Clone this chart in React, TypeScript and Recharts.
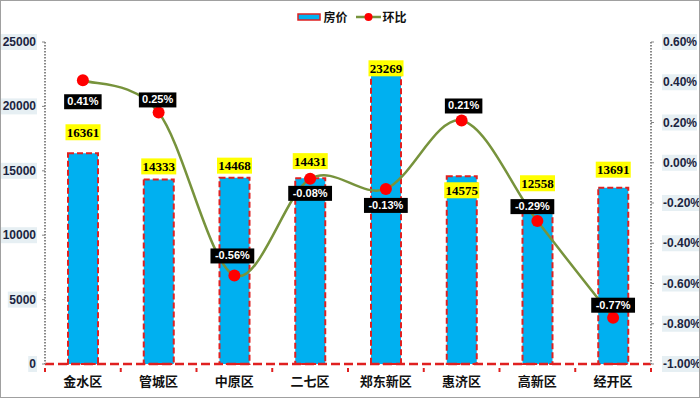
import { Bar, ComposedChart, LabelList, Line, XAxis, YAxis } from 'recharts'

const districts = ['金水区', '管城区', '中原区', '二七区', '郑东新区', '惠济区', '高新区', '经开区']
const prices = [16361, 14333, 14468, 14431, 23269, 14575, 12558, 13691]
const changes = [0.41, 0.25, -0.56, -0.08, -0.13, 0.21, -0.29, -0.77]
const priceTicks = [0, 5000, 10000, 15000, 20000, 25000]
const changeTicks = [-1, -0.8, -0.6, -0.4, -0.2, 0, 0.2, 0.4, 0.6]

// label nudges in px, as placed by hand in the original
const priceLabelDy = [-21, -13, -12, -17, 4, 14, -19, -18]
const changeLabelDx = [0, -1, -2, 0, 0, 2, -5, 0]
const changeLabelDy = [21, -13, -20, 14, 16, -15, -15, -13]

const data = districts.map((name, i) => ({ name, price: prices[i], change: changes[i] }))

const W = 700
const H = 398
const margin = { top: 42, right: 0, bottom: 4, left: 0 }
const leftW = 45
const rightW = 49
const band = (W - leftW - rightW) / districts.length

const sans = '"Liberation Sans", Arial, sans-serif'
const cjk = '"Noto Sans CJK SC", sans-serif'

// Excel style smoothing (catmull-rom)
function smoothCurve(context: any) {
    let pts: number[][] = []
    return {
        areaStart() {},
        areaEnd() {},
        lineStart() {
            pts = []
        },
        point(x: number, y: number) {
            pts.push([+x, +y])
        },
        lineEnd() {
            if (!pts.length) return
            context.moveTo(pts[0][0], pts[0][1])
            for (let i = 0; i < pts.length - 1; i++) {
                const p0 = pts[i - 1] || pts[i]
                const p1 = pts[i]
                const p2 = pts[i + 1]
                const p3 = pts[i + 2] || p2
                context.bezierCurveTo(
                    p1[0] + (p2[0] - p0[0]) / 6,
                    p1[1] + (p2[1] - p0[1]) / 6,
                    p2[0] - (p3[0] - p1[0]) / 6,
                    p2[1] - (p3[1] - p1[1]) / 6,
                    p2[0],
                    p2[1]
                )
            }
        },
    }
}

const LeftTick = ({ x, y, payload }: any) => {
    const t = String(payload.value)
    const w = t.length * 6.8 + 2
    return (
        <g>
            <rect x={x - w + 1} y={y - 8} width={w} height={16} fill='#e6eff3' />
            <text x={x} y={y} dy={4} textAnchor='end' fontFamily={sans} fontWeight='bold' fontSize={12} fill='#1b2440'>
                {t}
            </text>
        </g>
    )
}

const RightTick = ({ x, y, payload }: any) => {
    const t = `${Number(payload.value).toFixed(2)}%`
    const w = t.length * 6.6 + 2
    return (
        <g>
            <rect x={x - 1} y={y - 8} width={w} height={16} fill='#e6eff3' />
            <text x={x} y={y} dy={4} textAnchor='start' fontFamily={sans} fontWeight='bold' fontSize={12} fill='#1b2440'>
                {t}
            </text>
        </g>
    )
}

const CategoryTick = ({ x, y, payload, index }: any) => (
    <g>
        <line x1={x - band / 2} y1={y - 4} x2={x - band / 2} y2={y} stroke='#e02020' strokeWidth={2} />
        {index === districts.length - 1 && (
            <line x1={x + band / 2} y1={y - 4} x2={x + band / 2} y2={y} stroke='#e02020' strokeWidth={2} />
        )}
        <text x={x} y={y} dy={14} textAnchor='middle' fontFamily={cjk} fontWeight='bold' fontSize={13} fill='#111'>
            {payload.value}
        </text>
    </g>
)

const PriceLabel = (props: any) => {
    const vb = props.viewBox || {}
    const x = props.x ?? vb.x
    const y = props.y ?? vb.y
    const width = props.width ?? vb.width
    const i = props.index ?? prices.indexOf(props.value)
    const cx = x + width / 2
    const cy = y + priceLabelDy[i]
    const t = String(props.value)
    const w = 35
    return (
        <g>
            <rect x={cx - w / 2} y={cy - 8} width={w} height={16} fill='#ffff00' />
            <text x={cx} y={cy} dy={4.5} textAnchor='middle' fontFamily='"Liberation Serif", serif' fontWeight='bold' fontSize={13} fill='#000'>
                {t}
            </text>
        </g>
    )
}

const ChangeLabel = (props: any) => {
    const vb = props.viewBox || {}
    const x = props.x ?? vb.x
    const y = props.y ?? vb.y
    const i = props.index ?? changes.indexOf(props.value)
    const cx = x + changeLabelDx[i]
    const cy = y + changeLabelDy[i]
    const t = `${Number(props.value).toFixed(2)}%`
    const w = t.length * 6.3 + 6
    return (
        <g>
            <rect x={cx - w / 2} y={cy - 7} width={w} height={15} fill='#000' />
            <text x={cx} y={cy} dy={4} textAnchor='middle' fontFamily={sans} fontWeight='bold' fontSize={11} fill='#fff'>
                {t}
            </text>
        </g>
    )
}

function LegendBar() {
    return (
        <div
            style={{
                position: 'absolute',
                top: 8,
                left: 0,
                width: W,
                display: 'flex',
                justifyContent: 'center',
                alignItems: 'center',
                fontFamily: cjk,
                fontWeight: 'bold',
                fontSize: 12,
                color: '#111',
                paddingLeft: 2,
            }}
        >
            <svg width={24} height={10} style={{ marginRight: 2 }}>
                <rect x={1} y={2} width={22} height={6} fill='#00b0f0' stroke='#e02020' strokeWidth={1.5} />
            </svg>
            <span style={{ marginRight: 8 }}>房价</span>
            <svg width={25} height={10} style={{ marginRight: 2 }}>
                <line x1={0} y1={5} x2={25} y2={5} stroke='#77933c' strokeWidth={2.5} />
                <circle cx={12.5} cy={5} r={4} fill='#ff0000' />
            </svg>
            <span>环比</span>
        </div>
    )
}

export default function App() {
    return (
        <div style={{ position: 'absolute', left: 0, top: 0, width: W, height: H, background: '#fff' }}>
            <ComposedChart width={W} height={H} data={data} margin={margin}>
                <XAxis
                    dataKey='name'
                    height={30}
                    axisLine={{ stroke: '#e02020', strokeWidth: 2.5, strokeDasharray: '9 4' }}
                    tickLine={false}
                    tick={<CategoryTick />}
                    interval={0}
                />
                <YAxis
                    yAxisId='left'
                    width={leftW}
                    domain={[0, 25000]}
                    ticks={priceTicks}
                    axisLine={{ stroke: '#888', strokeWidth: 2, strokeDasharray: '1.5 1.5' }}
                    tickLine={{ stroke: '#888' }}
                    tickSize={3}
                    tickMargin={6}
                    tick={<LeftTick />}
                />
                <YAxis
                    yAxisId='right'
                    orientation='right'
                    width={rightW}
                    domain={[-1, 0.6]}
                    ticks={changeTicks}
                    axisLine={{ stroke: '#888', strokeWidth: 2, strokeDasharray: '1.5 1.5' }}
                    tickLine={{ stroke: '#888' }}
                    tickSize={3}
                    tickMargin={9}
                    tick={<RightTick />}
                />
                <Bar
                    yAxisId='left'
                    dataKey='price'
                    barSize={30}
                    fill='#00b0f0'
                    stroke='#e02020'
                    strokeWidth={2}
                    strokeDasharray='6 3'
                    isAnimationActive={false}
                >
                    <LabelList dataKey='price' content={<PriceLabel />} />
                </Bar>
                <Line
                    yAxisId='right'
                    dataKey='change'
                    type={smoothCurve as any}
                    stroke='#77933c'
                    strokeWidth={2.5}
                    dot={{ r: 6, fill: '#ff0000', stroke: 'none' }}
                    activeDot={false}
                    isAnimationActive={false}
                >
                    <LabelList dataKey='change' content={<ChangeLabel />} />
                </Line>
            </ComposedChart>
            <LegendBar />
            <div
                style={{
                    position: 'absolute',
                    inset: 0,
                    border: '1px solid #a0a0a0',
                    pointerEvents: 'none',
                }}
            />
        </div>
    )
}
